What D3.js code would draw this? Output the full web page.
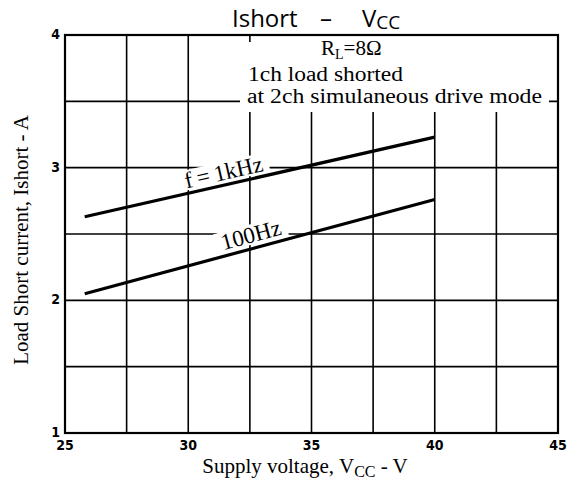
<!DOCTYPE html>
<html>
<head>
<meta charset="utf-8">
<script src="https://cdn.jsdelivr.net/npm/d3@7"></script>
<style>
  html, body { margin: 0; padding: 0; background: #fff; }
  svg { display: block; }
</style>
</head>
<body>
<svg id="chart" width="574" height="482"></svg>
<script>
// Chart values
const xTicks = [25, 30, 35, 40, 45];
const yTicks = [1, 2, 3, 4];
const xGrid = [27.5, 30, 32.5, 35, 37.5, 40, 42.5];
const yGrid = [1.5, 2, 2.5, 3, 3.5];
const vcc1k = [25.8, 40];
const ishort1k = [2.63, 3.23];
const vcc100 = [25.8, 40];
const ishort100 = [2.05, 2.76];

const svg = d3.select("#chart");
const margin = {left: 65, right: 16, top: 35, bottom: 49};
const width = 574, height = 482;

const x = d3.scaleLinear().domain([25, 45]).range([margin.left, width - margin.right]);
const y = d3.scaleLinear().domain([1, 4]).range([height - margin.bottom, margin.top]);

const serif = "'Liberation Serif', 'Times New Roman', serif";
const sans = "'Open Sans', 'Noto Sans', sans-serif";

// grid
svg.append("g").selectAll("line").data(xGrid).join("line")
  .attr("x1", d => x(d)).attr("x2", d => x(d))
  .attr("y1", y(1)).attr("y2", y(4))
  .attr("stroke", "#000").attr("stroke-width", 1.6);
svg.append("g").selectAll("line").data(yGrid).join("line")
  .attr("x1", x(25)).attr("x2", x(45))
  .attr("y1", d => y(d)).attr("y2", d => y(d))
  .attr("stroke", "#000").attr("stroke-width", 1.6);

// blank area behind the conditions note
svg.append("rect")
  .attr("x", 240).attr("y", y(4) + 7)
  .attr("width", x(45) - 9 - 240).attr("height", 112 - y(4) - 7)
  .attr("fill", "#fff");
svg.append("rect")
  .attr("x", 256).attr("y", y(4) + 1)
  .attr("width", x(45) - 9 - 256).attr("height", 8)
  .attr("fill", "#fff");

// frame
svg.append("rect")
  .attr("x", x(25)).attr("y", y(4))
  .attr("width", x(45) - x(25)).attr("height", y(1) - y(4))
  .attr("fill", "none").attr("stroke", "#000").attr("stroke-width", 2.2);

// curves
const line = d3.line().x(d => x(d[0])).y(d => y(d[1]));
const series = [
  {v: vcc1k, i: ishort1k, label: "f\u2009=\u20091kHz", size: 23, pos: 0.405, off: -13},
  {v: vcc100, i: ishort100, label: "100Hz", size: 23, pos: 0.485, off: -14}
];
series.forEach(s => {
  const pts = s.v.map((v, k) => [v, s.i[k]]);
  svg.append("path").datum(pts)
    .attr("d", line)
    .attr("fill", "none").attr("stroke", "#000").attr("stroke-width", 3.2);

  const x0 = x(s.v[0]), y0 = y(s.i[0]), x1 = x(s.v[1]), y1 = y(s.i[1]);
  const ang = Math.atan2(y1 - y0, x1 - x0) * 180 / Math.PI;
  const cx = x0 + (x1 - x0) * s.pos, cy = y0 + (y1 - y0) * s.pos;
  const g = svg.append("g").attr("transform", `translate(${cx},${cy}) rotate(${ang}) translate(0,${s.off})`);
  const t = g.append("text")
    .attr("text-anchor", "middle").attr("dy", "0.35em")
    .attr("font-family", serif).attr("font-size", s.size)
    .text(s.label);
  const bb = t.node().getBBox();
  g.insert("rect", "text")
    .attr("x", bb.x - 6).attr("y", bb.y + 2)
    .attr("width", bb.width + 12).attr("height", bb.height - 5)
    .attr("fill", "#fff");
});

// tick labels
svg.append("g").selectAll("text").data(xTicks).join("text")
  .attr("x", d => x(d)).attr("y", y(1) + 17)
  .attr("text-anchor", "middle")
  .attr("font-family", "'DejaVu Sans Condensed', 'DejaVu Sans', sans-serif")
  .attr("font-weight", "bold").attr("font-size", 14)
  .text(d => d);
svg.append("g").selectAll("text").data(yTicks).join("text")
  .attr("x", x(25) - 5).attr("y", d => y(d) + 4)
  .attr("text-anchor", "end")
  .attr("font-family", "'DejaVu Sans Condensed', 'DejaVu Sans', sans-serif")
  .attr("font-weight", "bold").attr("font-size", 14)
  .text(d => d);

// title
const title = svg.append("text")
  .attr("y", 27)
  .attr("font-family", sans).attr("font-size", 24);
title.append("tspan").attr("x", 232).text("Ishort");
title.append("tspan").attr("x", 320).text("\u2013");
title.append("tspan").attr("x", 362).text("V");
title.append("tspan").attr("font-size", 19).attr("dy", 2).text("CC");

// conditions note
const rl = svg.append("text")
  .attr("x", 321).attr("y", 55)
  .attr("font-family", serif).attr("font-size", 21);
rl.append("tspan").text("R");
rl.append("tspan").attr("font-size", 14).attr("dy", 4).text("L");
rl.append("tspan").attr("dy", -4).text("=8\u03A9");

svg.append("text")
  .attr("x", 248).attr("y", 81)
  .attr("font-family", serif).attr("font-size", 20)
  .attr("textLength", 155).attr("lengthAdjust", "spacingAndGlyphs")
  .text("1ch load shorted");
svg.append("text")
  .attr("x", 247).attr("y", 103)
  .attr("font-family", serif).attr("font-size", 20)
  .attr("textLength", 295).attr("lengthAdjust", "spacingAndGlyphs")
  .text("at 2ch simulaneous drive mode");

// axis titles
const xl = svg.append("text")
  .attr("x", 305).attr("y", 473)
  .attr("text-anchor", "middle")
  .attr("font-family", serif).attr("font-size", 21);
xl.append("tspan").text("Supply voltage, V");
xl.append("tspan").attr("font-size", 16).attr("dy", 4).text("CC");
xl.append("tspan").attr("dy", -4).text(" - V");

svg.append("text")
  .attr("transform", "translate(28,240) rotate(-90)")
  .attr("text-anchor", "middle")
  .attr("font-family", serif).attr("font-size", 21)
  .text("Load Short current, Ishort - A");
</script>
</body>
</html>
